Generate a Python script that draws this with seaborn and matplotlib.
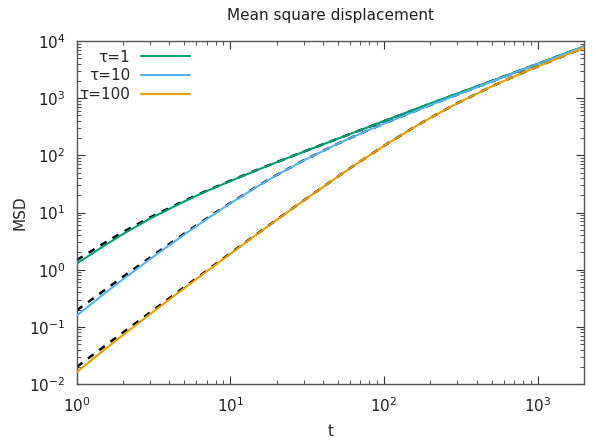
import numpy as np
import pandas as pd
import matplotlib
matplotlib.use("Agg")
import matplotlib.pyplot as plt
import seaborn as sns

# lag times
t = [1, 1.5, 2, 3, 5, 7, 10, 15, 20, 30, 50, 70, 100, 150, 200, 300,
     500, 700, 1000, 1500, 2000]

# simulated MSD (solid lines)
msd_tau1 = [1.28, 2.59, 4.20, 7.82, 15.6, 23.6, 35.6, 55.6, 75.6, 115.6,
            195.6, 276, 400, 605, 810, 1210, 2000, 2790, 4000, 6050, 8000]
msd_tau10 = [0.157, 0.374, 0.678, 1.53, 4.10, 7.66, 14.5, 28.6, 45.1, 81.6,
             159.9, 239.6, 359.6, 555, 755, 1150, 1950, 2770, 3980, 5950, 8050]
msd_tau100 = [0.0162, 0.0390, 0.0717, 0.167, 0.472, 0.931, 1.90, 4.23, 7.42,
              16.2, 42.5, 78.6, 147, 289, 454, 820, 1600, 2400, 3600, 5600, 7650]

# theory (dashed lines)
th_tau1 = [1.47, 2.89, 4.54, 8.20, 16.0, 24.0, 36.0, 56.0, 76.0, 116,
           196, 276, 396, 596, 796, 1196, 1996, 2796, 3996, 5996, 7996]
th_tau10 = [0.194, 0.428, 0.749, 1.63, 4.26, 7.86, 14.7, 28.9, 45.4, 82.0,
            160.3, 240, 360, 560, 760, 1160, 1960, 2760, 3960, 5960, 7960]
th_tau100 = [0.0199, 0.0448, 0.0795, 0.178, 0.492, 0.958, 1.94, 4.28, 7.49,
             16.3, 42.6, 78.6, 147.2, 289.3, 454.1, 820, 1603, 2400, 3600, 5600, 7600]

labels = ["τ=1", "τ=10", "τ=100"]
colors = ["#009e73", "#56b4e9", "#e69f00"]

sim = pd.DataFrame({
    "t": t * 3,
    "msd": msd_tau1 + msd_tau10 + msd_tau100,
    "tau": [labels[0]] * len(t) + [labels[1]] * len(t) + [labels[2]] * len(t),
})
theory = pd.DataFrame({
    "t": t * 3,
    "msd": th_tau1 + th_tau10 + th_tau100,
    "tau": [labels[0]] * len(t) + [labels[1]] * len(t) + [labels[2]] * len(t),
})

sns.set_style("ticks")
plt.rcParams["font.family"] = ["DejaVu Sans"]
plt.rcParams["font.size"] = 11
plt.rcParams["axes.unicode_minus"] = False

fig = plt.figure(figsize=(5.96, 4.43), dpi=100)
ax = fig.add_axes([0.1287, 0.1332, 0.980 - 0.1287, 0.9074 - 0.1332])

sns.lineplot(data=theory, x="t", y="msd", units="tau", estimator=None,
             color="black", lw=1.8, ls=(0, (2.8, 2.8)), ax=ax, legend=False,
             zorder=2)
sns.lineplot(data=sim, x="t", y="msd", hue="tau", palette=colors,
             lw=1.5, ax=ax, zorder=3)

ax.set_xscale("log")
ax.set_yscale("log")
ax.set_xlim(1, 2000)
ax.set_ylim(1e-2, 1e4)

ax.set_title("Mean square displacement", fontsize=11, pad=15, color="#202020")
ax.set_xlabel("t", fontsize=11, labelpad=6)
ax.set_ylabel("MSD", fontsize=11, labelpad=1)

for s in ax.spines.values():
    s.set_color("#555555")
    s.set_linewidth(1)
ax.tick_params(which="both", direction="in", top=True, right=True,
               color="#333333", labelsize=11, labelcolor="#202020")
ax.tick_params(which="major", length=6, width=0.8)
ax.tick_params(axis="x", which="major", pad=9)
ax.tick_params(axis="y", which="major", pad=8)
ax.tick_params(which="minor", length=3, width=0.6)

handles, lbls = ax.get_legend_handles_labels()
ax.legend(handles, lbls, loc="upper right", bbox_to_anchor=(0.223, 0.975),
          frameon=False, markerfirst=False, handlelength=3.2,
          handletextpad=0.7, labelspacing=0.25, borderpad=0,
          borderaxespad=0, fontsize=11)

fig.savefig("out.png", dpi=100)
